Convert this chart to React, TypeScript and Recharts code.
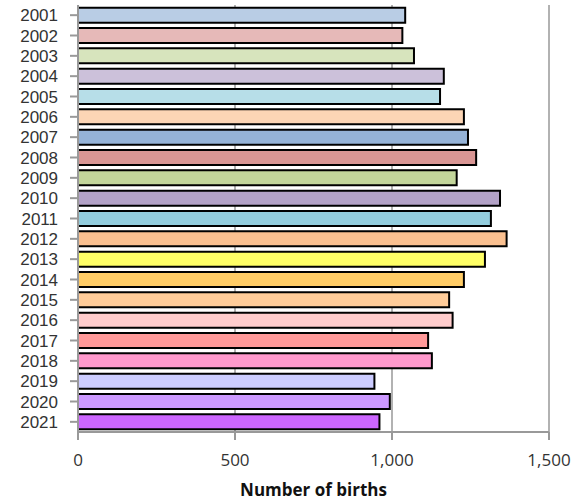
import { BarChart, Bar, XAxis, YAxis, CartesianGrid, Cell } from 'recharts';

const years = [
  '2001', '2002', '2003', '2004', '2005', '2006', '2007', '2008', '2009', '2010', '2011',
  '2012', '2013', '2014', '2015', '2016', '2017', '2018', '2019', '2020', '2021',
];

const births = [
  1042, 1033, 1070, 1165, 1153, 1229, 1242, 1268, 1206, 1344, 1315,
  1365, 1296, 1229, 1182, 1193, 1115, 1127, 944, 993, 960,
];

const barColors = [
  '#B9CDE5', '#E6B9B8', '#D7E4BD', '#CCC1DA', '#B7DEE8', '#FCD5B5', '#95B3D7',
  '#D99694', '#C3D69B', '#B3A2C7', '#93CDDD', '#FAC090', '#FFFF66', '#FFCC66',
  '#FFCC99', '#FFCCCC', '#FF9999', '#FF99CC', '#CCCCFF', '#CC99FF', '#CC66FF',
];

const xTicks = [0, 500, 1000, 1500];

const data = years.map((year, i) => ({ year, births: births[i] }));

export default function App() {
  return (
    <div style={{ position: 'absolute', left: 0, top: 0, width: 586, height: 501, background: '#fff', fontFamily: 'Open Sans, sans-serif' }}>
      <BarChart
        width={586}
        height={501}
        data={data}
        layout="vertical"
        margin={{ top: 5, right: 37, bottom: 0, left: 0 }}
        barCategoryGap="13%"
      >
        <CartesianGrid horizontal={false} stroke="#999" strokeWidth={1.5} />
        <XAxis
          type="number"
          domain={[0, 1500]}
          ticks={xTicks}
          tickFormatter={(v: number) => v.toLocaleString('en-US')}
          axisLine={{ stroke: '#999', strokeWidth: 2 }}
          tickLine={{ stroke: '#999', strokeWidth: 2 }}
          tickSize={8}
          tickMargin={14}
          tick={{ fill: '#333', fontSize: 17 }}
          height={69}
          label={{ value: 'Number of births', position: 'insideBottom', offset: 5, fill: '#111', fontSize: 17, fontWeight: 'bold' }}
        />
        <YAxis
          type="category"
          dataKey="year"
          width={78}
          axisLine={{ stroke: '#999', strokeWidth: 2 }}
          tickLine={{ stroke: '#999', strokeWidth: 2 }}
          tickSize={8}
          tickMargin={12}
          tick={{ fill: '#333', fontSize: 17, fontFamily: 'Liberation Sans, sans-serif' }}
          interval={0}
        />
        <Bar dataKey="births" stroke="#000" strokeWidth={2} isAnimationActive={false}>
          {data.map((d, i) => (
            <Cell key={d.year} fill={barColors[i]} />
          ))}
        </Bar>
      </BarChart>
    </div>
  );
}
